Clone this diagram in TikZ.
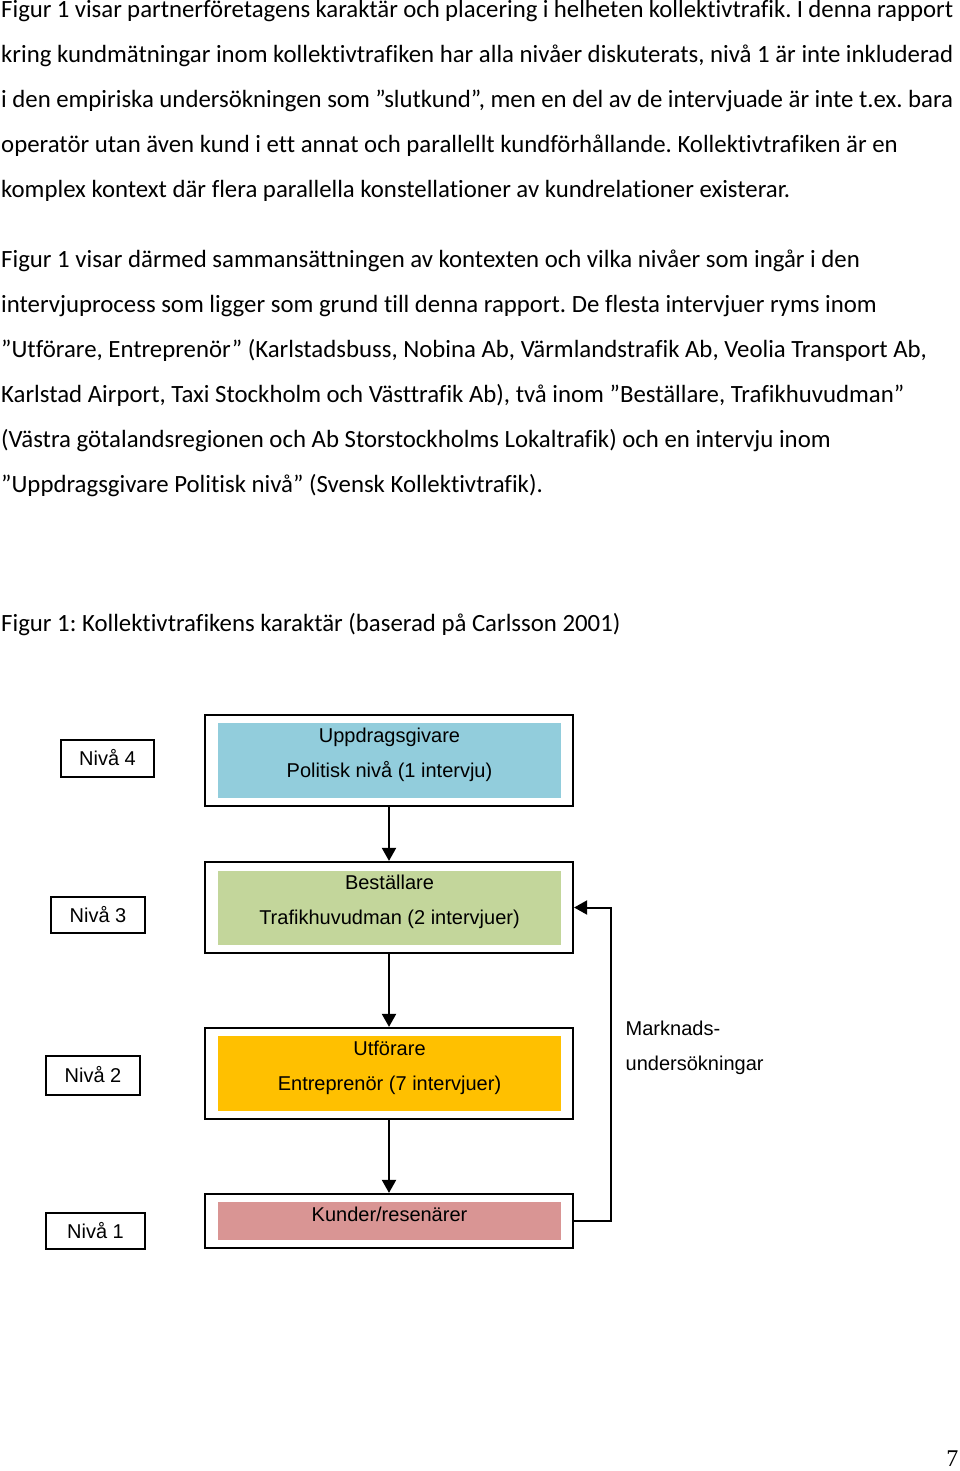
\documentclass[tikz,border=0pt]{standalone}
\usepackage{fontspec}
\setmainfont{Carlito}[Ligatures={NoCommon}]
\newfontfamily\arialf{Liberation Sans}
\newfontfamily\timesf{Liberation Serif}
\usetikzlibrary{arrows.meta}
\definecolor{cblue}{HTML}{92CDDC}
\definecolor{cgreen}{HTML}{C3D69B}
\definecolor{corange}{HTML}{FFC000}
\definecolor{cpink}{HTML}{D99594}
\frenchspacing
\begin{document}
\begin{tikzpicture}[x=1pt,y=-1pt,
  body/.style={anchor=base west, inner sep=0pt, font=\fontsize{24.8}{29}\selectfont},
  outerbox/.style={draw, line width=2.2pt, minimum width=368pt, inner sep=0pt},
  innerbox/.style={minimum width=343pt, inner sep=0pt},
  boxtxt/.style={anchor=base, inner sep=0pt, font=\arialf\fontsize{20}{24}\selectfont},
  level/.style={draw, line width=2pt, font=\arialf\fontsize{20}{24}\selectfont, text height=14.3pt, text depth=0pt, inner sep=0pt},
  arr/.style={line width=2pt, -{Triangle[width=14pt,length=13pt]}}
]
\useasboundingbox (0,0) rectangle (960,1471);
\fill[white] (0,0) rectangle (960,1471);

% paragraph 1
\node[body] (p1a) at (1,17.5) {\makebox[952pt][s]{Figur 1 visar partnerföretagens karaktär och placering i helheten kollektivtrafik. I denna rapport}};
\node[body] (p1b) at (1,62.5) {\makebox[952pt][s]{kring kundmätningar inom kollektivtrafiken har alla nivåer diskuterats, nivå 1 är inte inkluderad}};
\node[body] (p1c) at (1,107.5) {\makebox[952pt][s]{i den empiriska undersökningen som ”slutkund”, men en del av de intervjuade är inte t.ex. bara}};
\node[body] (p1d) at (1,152.5) {operatör utan även kund i ett annat och parallellt kundförhållande. Kollektivtrafiken är en};
\node[body] (p1e) at (1,197.5) {komplex kontext där flera parallella konstellationer av kundrelationer existerar.};

% paragraph 2
\node[body] (p2a) at (1,267.5) {Figur 1 visar därmed sammansättningen av kontexten och vilka nivåer som ingår i den};
\node[body] (p2b) at (1,312.5) {intervjuprocess som ligger som grund till denna rapport. De flesta intervjuer ryms inom};
\node[body] (p2c) at (1,357.5) {”Utförare, Entreprenör” (Karlstadsbuss, Nobina Ab, Värmlandstrafik Ab, Veolia Transport Ab,};
\node[body] (p2d) at (1,402.5) {Karlstad Airport, Taxi Stockholm och Västtrafik Ab), två inom ”Beställare, Trafikhuvudman”};
\node[body] (p2e) at (1,447.5) {(Västra götalandsregionen och Ab Storstockholms Lokaltrafik) och en intervju inom};
\node[body] (p2f) at (1,492.5) {”Uppdragsgivare Politisk nivå” (Svensk Kollektivtrafik).};

% caption
\node[body] (cap) at (1,631.5) {Figur 1: Kollektivtrafikens karaktär (baserad på Carlsson 2001)};

% level boxes
\node[outerbox, minimum height=91pt] (b4) at (389,760.5) {};
\node[innerbox, fill=cblue, minimum height=75pt] (i4) at (389.5,760.5) {};
\node[boxtxt] (t4a) at (389.5,742) {Uppdragsgivare};
\node[boxtxt] (t4b) at (389.5,777) {Politisk nivå (1 intervju)};

\node[outerbox, minimum height=91pt] (b3) at (389,907.5) {};
\node[innerbox, fill=cgreen, minimum height=74pt] (i3) at (389.5,908) {};
\node[boxtxt] (t3a) at (389.5,889) {Beställare};
\node[boxtxt] (t3b) at (389.5,924) {Trafikhuvudman (2 intervjuer)};

\node[outerbox, minimum height=91pt] (b2) at (389,1073.5) {};
\node[innerbox, fill=corange, minimum height=75pt] (i2) at (389.5,1073.5) {};
\node[boxtxt] (t2a) at (389.5,1055) {Utförare};
\node[boxtxt] (t2b) at (389.5,1090) {Entreprenör (7 intervjuer)};

\node[outerbox, minimum height=54pt] (b1) at (389,1221) {};
\node[innerbox, fill=cpink, minimum height=38pt] (i1) at (389.5,1221) {};
\node[boxtxt] (t1a) at (389.5,1221) {Kunder/resenärer};

% Nivå labels
\node[level, minimum width=93pt, minimum height=37pt] (n4) at (107.5,758.5) {Nivå 4};
\node[level, minimum width=94pt, minimum height=36pt] (n3) at (98,915) {Nivå 3};
\node[level, minimum width=94pt, minimum height=39pt] (n2) at (93,1075.5) {Nivå 2};
\node[level, minimum width=99pt, minimum height=36pt] (n1) at (95.5,1231) {Nivå 1};

% arrows
\draw[arr] (b4.south) -- (b3.north);
\draw[arr] (b3.south) -- (b2.north);
\draw[arr] (b2.south) -- (b1.north);
\coordinate (fb) at (610.5,1000);
\draw[arr] (b1.east) -| (fb) |- (b3.east);

\node[boxtxt, anchor=base west] (mk1) at (625.5,1035) {Marknads-};
\node[boxtxt, anchor=base west] (mk2) at (625.5,1070) {undersökningar};

\node[anchor=base east, inner sep=0pt, font=\timesf\fontsize{24}{28}\selectfont] (pg) at (958.5,1466) {7};
\end{tikzpicture}
\end{document}
